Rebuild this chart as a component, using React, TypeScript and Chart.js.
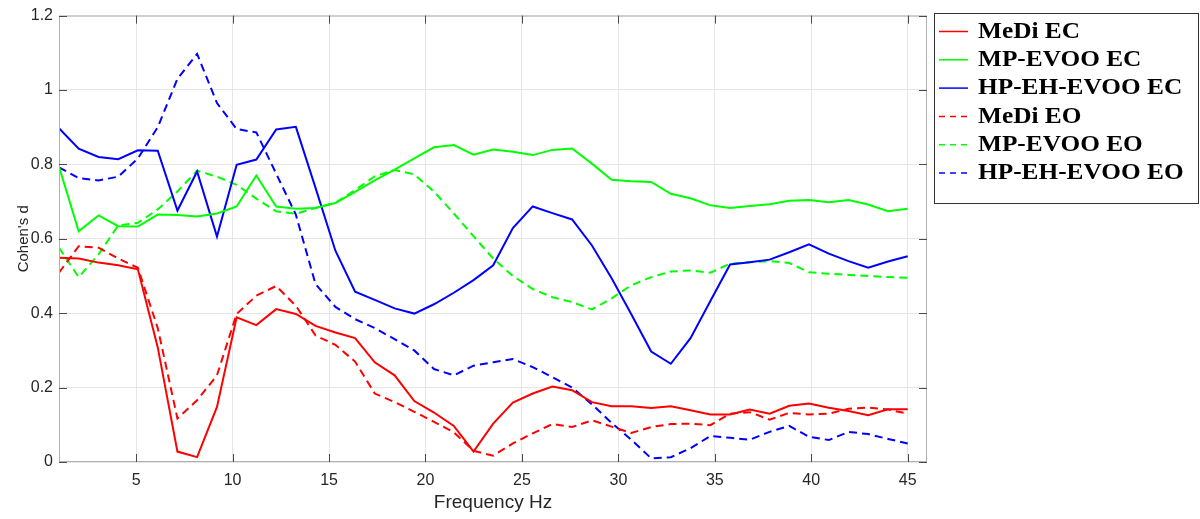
import React, { useEffect, useRef } from "react";
import { Chart, registerables } from "chart.js";

Chart.register(...registerables);

// Frequency axis (Hz)
const frequencies = [
  1, 2.02, 3.05, 4.07, 5.09, 6.12, 7.14, 8.16, 9.19, 10.21, 11.23, 12.26, 13.28, 14.3, 15.33,
  16.35, 17.37, 18.4, 19.42, 20.44, 21.47, 22.49, 23.51, 24.53, 25.56, 26.58, 27.6, 28.63, 29.65,
  30.67, 31.7, 32.72, 33.74, 34.77, 35.79, 36.81, 37.84, 38.86, 39.88, 40.91, 41.93, 42.95, 43.98, 45,
];

const mediEC = [
  0.549, 0.547, 0.536, 0.529, 0.518, 0.308, 0.028, 0.013, 0.148, 0.389, 0.368, 0.411, 0.398, 0.366,
  0.348, 0.333, 0.268, 0.233, 0.164, 0.133, 0.097, 0.028, 0.103, 0.16, 0.184, 0.203, 0.193, 0.161,
  0.15, 0.15, 0.145, 0.15, 0.139, 0.128, 0.128, 0.141, 0.13, 0.151, 0.157, 0.146, 0.137, 0.126, 0.142, 0.142,
];

const mpEvooEC = [
  0.794, 0.62, 0.663, 0.634, 0.633, 0.665, 0.664, 0.66, 0.668, 0.687, 0.77, 0.687, 0.681, 0.683,
  0.696, 0.726, 0.757, 0.786, 0.816, 0.846, 0.852, 0.826, 0.84, 0.834, 0.825, 0.839, 0.843, 0.802,
  0.759, 0.755, 0.753, 0.721, 0.709, 0.69, 0.683, 0.688, 0.693, 0.702, 0.704, 0.698, 0.704, 0.692, 0.674, 0.681,
];

const hpEhEvooEC = [
  0.897, 0.842, 0.82, 0.814, 0.838, 0.837, 0.676, 0.781, 0.606, 0.799, 0.813, 0.894, 0.901, 0.737,
  0.568, 0.458, 0.436, 0.413, 0.399, 0.424, 0.455, 0.489, 0.529, 0.629, 0.687, 0.669, 0.652, 0.582,
  0.494, 0.397, 0.297, 0.264, 0.333, 0.433, 0.531, 0.537, 0.544, 0.564, 0.585, 0.56, 0.54, 0.522, 0.539, 0.553,
];

const mediEO = [
  0.509, 0.58, 0.576, 0.547, 0.522, 0.36, 0.117, 0.166, 0.233, 0.398, 0.447, 0.473, 0.42, 0.34,
  0.315, 0.27, 0.184, 0.161, 0.135, 0.108, 0.08, 0.03, 0.017, 0.05, 0.077, 0.102, 0.094, 0.112,
  0.095, 0.078, 0.094, 0.102, 0.103, 0.099, 0.13, 0.134, 0.114, 0.132, 0.128, 0.13, 0.143, 0.146, 0.141, 0.13,
];

const mpEvooEO = [
  0.576, 0.497, 0.558, 0.636, 0.643, 0.679, 0.727, 0.783, 0.767, 0.745, 0.708, 0.674, 0.667, 0.683,
  0.697, 0.731, 0.768, 0.785, 0.773, 0.727, 0.668, 0.607, 0.547, 0.5, 0.465, 0.443, 0.43, 0.41,
  0.44, 0.475, 0.497, 0.512, 0.515, 0.509, 0.533, 0.537, 0.54, 0.535, 0.51, 0.506, 0.503, 0.5, 0.497, 0.495,
];

const hpEhEvooEO = [
  0.792, 0.763, 0.757, 0.767, 0.816, 0.9, 1.03, 1.097, 0.965, 0.895, 0.886, 0.775, 0.665, 0.478,
  0.417, 0.384, 0.36, 0.33, 0.3, 0.25, 0.233, 0.259, 0.268, 0.277, 0.255, 0.228, 0.2, 0.155,
  0.105, 0.06, 0.01, 0.013, 0.037, 0.07, 0.065, 0.06, 0.081, 0.097, 0.068, 0.059, 0.081, 0.075, 0.062, 0.05,
];

const seriesLabels = [
  "MeDi EC",
  "MP-EVOO EC",
  "HP-EH-EVOO EC",
  "MeDi EO",
  "MP-EVOO EO",
  "HP-EH-EVOO EO",
];

const xTickValues = [5, 10, 15, 20, 25, 30, 35, 40, 45];
const yTickValues = [0, 0.2, 0.4, 0.6, 0.8, 1, 1.2];

const RED = "#ff0000";
const GREEN = "#00ff00";
const BLUE = "#0000ff";
const DASH = [8, 5];

const axisBoxPlugin = {
  id: "axisBox",
  afterDatasetsDraw(chart: any) {
    const { ctx, chartArea, scales } = chart;
    const { left, right, top, bottom } = chartArea;
    ctx.save();
    ctx.strokeStyle = "#b0b0b0";
    ctx.lineWidth = 1;
    ctx.strokeRect(left + 0.5, top + 0.5, right - left - 1, bottom - top - 1);
    ctx.strokeStyle = "#4a4a4a";
    ctx.beginPath();
    const tl = 8;
    for (const t of scales.x.ticks) {
      const px = Math.round(scales.x.getPixelForValue(t.value)) + 0.5;
      ctx.moveTo(px, bottom);
      ctx.lineTo(px, bottom - tl);
      ctx.moveTo(px, top);
      ctx.lineTo(px, top + tl);
    }
    for (const t of scales.y.ticks) {
      const py = Math.round(scales.y.getPixelForValue(t.value)) + 0.5;
      ctx.moveTo(left, py);
      ctx.lineTo(left + tl, py);
      ctx.moveTo(right, py);
      ctx.lineTo(right - tl, py);
    }
    ctx.stroke();
    ctx.restore();
  },
};

const boxLegendPlugin = {
  id: "boxLegend",
  afterDraw(chart: any, _args: any, opts: any) {
    const { ctx } = chart;
    ctx.save();
    ctx.strokeStyle = "#333333";
    ctx.lineWidth = 1;
    ctx.strokeRect(opts.x + 0.5, opts.y + 0.5, opts.w, opts.h);
    chart.data.datasets.forEach((ds: any, i: number) => {
      const cy = opts.firstRow + i * opts.rowStep;
      ctx.strokeStyle = ds.borderColor;
      ctx.lineWidth = 1.5;
      ctx.setLineDash(ds.borderDash && ds.borderDash.length ? [6, 5] : []);
      ctx.beginPath();
      ctx.moveTo(opts.x + 5, cy);
      ctx.lineTo(opts.x + 34, cy);
      ctx.stroke();
      ctx.setLineDash([]);
      ctx.fillStyle = "#000000";
      ctx.font = "bold 24px 'Liberation Serif', 'Times New Roman', serif";
      ctx.textBaseline = "middle";
      ctx.textAlign = "left";
      ctx.save();
      ctx.translate(opts.x + 44, cy);
      ctx.scale(1.055, 1);
      ctx.fillText(ds.label, 0, 0);
      ctx.restore();
    });
    ctx.restore();
  },
};

export default function App() {
  const canvasRef = useRef<HTMLCanvasElement | null>(null);

  useEffect(() => {
    document.body.style.margin = "0";
    const canvas = canvasRef.current;
    if (!canvas) return;

    const mk = (label: string, data: number[], color: string, dashed: boolean) => ({
      label,
      data: frequencies.map((f, i) => ({ x: f, y: data[i] })),
      borderColor: color,
      backgroundColor: color,
      borderWidth: 2,
      borderDash: dashed ? DASH : [],
      pointRadius: 0,
      tension: 0,
      fill: false,
    });

    const tickFont = { family: "'Liberation Sans', Arial, sans-serif", size: 16 };

    const chart = new Chart(canvas, {
      type: "line",
      data: {
        datasets: [
          mk(seriesLabels[0], mediEC, RED, false),
          mk(seriesLabels[1], mpEvooEC, GREEN, false),
          mk(seriesLabels[2], hpEhEvooEC, BLUE, false),
          mk(seriesLabels[3], mediEO, RED, true),
          mk(seriesLabels[4], mpEvooEO, GREEN, true),
          mk(seriesLabels[5], hpEhEvooEO, BLUE, true),
        ],
      },
      options: {
        responsive: false,
        animation: false,
        layout: { padding: { left: 0, top: 13, right: 273, bottom: 0 } },
        plugins: {
          legend: { display: false },
          tooltip: { enabled: false },
          boxLegend: { x: 934, y: 13, w: 264, h: 190, firstRow: 31.5, rowStep: 28.3 },
        } as any,
        scales: {
          x: {
            type: "linear",
            min: 1,
            max: 46,
            afterBuildTicks: (scale: any) => {
              scale.ticks = xTickValues.map((v) => ({ value: v }));
            },
            afterFit: (scale: any) => {
              scale.height = 57;
            },
            grid: { color: "#e6e6e6", drawTicks: false, lineWidth: 1 },
            border: { display: false },
            ticks: {
              color: "#262626",
              font: tickFont,
              padding: 9,
              maxRotation: 0,
              autoSkip: false,
              callback: (v: any) => String(v),
            },
            title: {
              display: true,
              text: "Frequency Hz",
              color: "#262626",
              font: { family: "'Liberation Sans', Arial, sans-serif", size: 19 },
              padding: { top: 0, bottom: 5 },
            },
          },
          y: {
            type: "linear",
            min: 0,
            max: 1.2,
            afterBuildTicks: (scale: any) => {
              scale.ticks = yTickValues.map((v) => ({ value: v }));
            },
            afterFit: (scale: any) => {
              scale.width = 59;
            },
            grid: { color: "#e6e6e6", drawTicks: false, lineWidth: 1 },
            border: { display: false },
            ticks: {
              color: "#262626",
              font: tickFont,
              padding: 6,
              autoSkip: false,
              callback: (v: any) => String(Math.round(Number(v) * 10) / 10),
            },
            title: {
              display: true,
              text: "Cohen's d",
              color: "#262626",
              font: { family: "'Liberation Sans', Arial, sans-serif", size: 15 },
              padding: { top: 15, bottom: 0 },
            },
          },
        },
      },
      plugins: [axisBoxPlugin, boxLegendPlugin],
    });

    return () => {
      chart.destroy();
    };
  }, []);

  return (
    <div style={{ width: 1200, height: 519, background: "#ffffff" }}>
      <canvas ref={canvasRef} width={1200} height={519} style={{ display: "block" }} />
    </div>
  );
}
